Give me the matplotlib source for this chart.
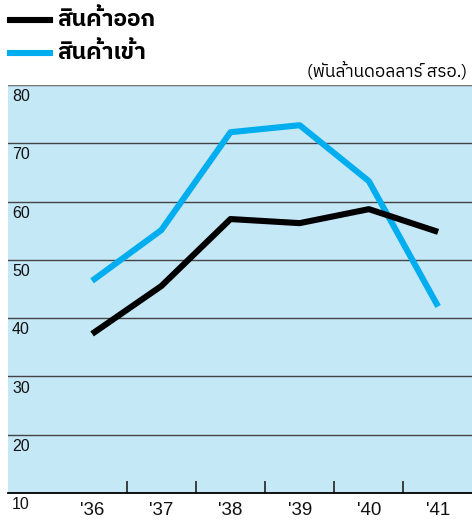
import matplotlib
matplotlib.use("Agg")
import matplotlib.pyplot as plt
import matplotlib.transforms as mtransforms
from matplotlib import font_manager
from matplotlib.ft2font import FT2Font

# data (billion US dollars)
years = ["'36", "'37", "'38", "'39", "'40", "'41"]
exports = [37.3, 45.5, 57.0, 56.3, 58.7, 54.8]
imports = [46.4, 55.1, 71.9, 73.1, 63.5, 42.0]
y_ticks = [10, 20, 30, 40, 50, 60, 70, 80]
label_exports = "สินค้าออก"
label_imports = "สินค้าเข้า"
unit_text = "(พันล้านดอลลาร์ สรอ.)"


# find an installed font that has Thai glyphs
def find_thai_font():
    names = []
    for f in font_manager.fontManager.ttflist:
        try:
            ft = FT2Font(f.fname)
            if ft.get_char_index(ord("ส")) and ft.get_char_index(ord("้")):
                names.append((f.name, f.weight))
        except Exception:
            pass
    if not names:
        return None
    for n, w in names:
        if "Thai" in n and "Looped" not in n:
            return n
    return names[0][0]


thai = find_thai_font()
families = [thai, "DejaVu Sans"] if thai else ["DejaVu Sans"]
plt.rcParams["font.family"] = ["Liberation Sans", "DejaVu Sans"]

black = "#000000"
blue = "#00aeef"
bg = "#c5e8f7"

fig = plt.figure(figsize=(4.72, 5.2), dpi=100)
ax = fig.add_axes([8 / 472, 27 / 520, 464 / 472, 408 / 520])
ax.set_facecolor(bg)

x = list(range(len(years)))
ax.plot(x, imports, color=blue, lw=4.4, solid_capstyle="butt", zorder=3)
ax.plot(x, exports, color=black, lw=4.4, solid_capstyle="butt", zorder=4)

ax.set_xlim(-1.215, 5.49)
ax.set_ylim(10, 80)

# horizontal gridlines
for v in y_ticks[1:]:
    ax.axhline(v, color="#444444", lw=1.0, zorder=1)
ax.axhline(80, color="#777777", lw=1.4, zorder=1)

for s in ["top", "right", "left"]:
    ax.spines[s].set_visible(False)
ax.spines["bottom"].set_color(black)
ax.spines["bottom"].set_linewidth(1.3)

# y labels under each gridline, inside the plot
trans = mtransforms.blended_transform_factory(ax.transAxes, ax.transData)
for v in y_ticks:
    ax.text(4 / 464, v - 0.7, str(v), transform=trans, ha="left", va="top",
            fontsize=11.5, color="#111111", clip_on=False)
ax.set_yticks([])

# x ticks between categories, pointing up
ax.set_xticks([i + 0.5 for i in range(len(years) - 1)])
ax.set_xticklabels([])
ax.tick_params(axis="x", direction="in", length=9, width=1.2, color="#222222")
for i, yr in enumerate(years):
    ax.text(i, -0.022, yr, transform=mtransforms.blended_transform_factory(ax.transData, ax.transAxes),
            ha="center", va="top", fontsize=13.5, color="#111111")

# legend at top-left
fig.add_artist(plt.Line2D([10 / 472, 50 / 472], [1 - 20 / 520] * 2, color=black, lw=4.4,
                          transform=fig.transFigure))
fig.add_artist(plt.Line2D([10 / 472, 50 / 472], [1 - 53 / 520] * 2, color=blue, lw=4.4,
                          transform=fig.transFigure))
fig.text(57 / 472, 1 - 19 / 520, label_exports, family=families, fontsize=16.5,
         fontweight="bold", va="center", ha="left")
fig.text(57 / 472, 1 - 52 / 520, label_imports, family=families, fontsize=16.5,
         fontweight="bold", va="center", ha="left")
fig.text(467 / 472, 1 - 70 / 520, unit_text, family=families, fontsize=12.3,
         va="center", ha="right")

fig.savefig("out.png", dpi=100)
